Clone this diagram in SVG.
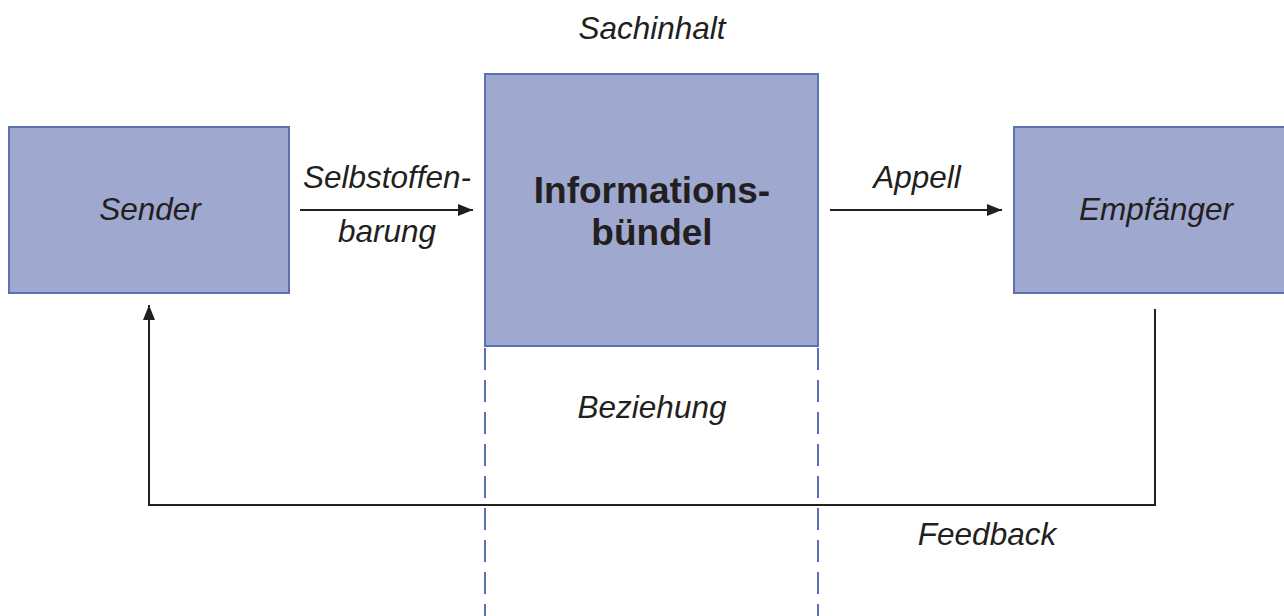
<svg xmlns="http://www.w3.org/2000/svg" width="1284" height="616" viewBox="0 0 1284 616">
  <style>
    .box { fill: #9fa8cf; stroke: #5a72b4; stroke-width: 2; }
    .lbl { font-family: "Liberation Sans", Arial, sans-serif; font-size: 31.5px; font-style: italic; fill: #231f20; text-anchor: middle; }
    .bold { font-family: "Liberation Sans", Arial, sans-serif; font-size: 37px; font-weight: bold; fill: #231f20; text-anchor: middle; }
    .conn { fill: none; stroke: #231f20; stroke-width: 2; }
    .dash { fill: none; stroke: #5a72b4; stroke-width: 2; stroke-dasharray: 22 10; }
  </style>
  <defs>
    <marker id="arrow" viewBox="0 0 15 12" refX="15" refY="6" markerWidth="15" markerHeight="12" markerUnits="userSpaceOnUse" orient="auto">
      <path d="M0,0 L15,6 L0,12 Z" fill="#231f20"/>
    </marker>
  </defs>
  <rect width="1284" height="616" fill="#ffffff"/>

  <g id="sender">
    <rect class="box" x="9" y="127" width="280" height="166"/>
    <text class="lbl" x="150" y="220">Sender</text>
  </g>

  <g id="informationsbuendel">
    <rect class="box" x="485" y="74" width="333" height="272"/>
    <text class="bold" x="652" y="203">Informations-</text>
    <text class="bold" x="652" y="245">bündel</text>
  </g>

  <g id="empfaenger">
    <rect class="box" x="1014" y="127" width="280" height="166"/>
    <text class="lbl" x="1156" y="220">Empfänger</text>
  </g>

  <g id="aspects">
    <text class="lbl" x="652" y="39">Sachinhalt</text>
    <text class="lbl" x="652" y="418">Beziehung</text>
    <line class="dash" x1="485" y1="348" x2="485" y2="616"/>
    <line class="dash" x1="818" y1="348" x2="818" y2="616"/>
  </g>

  <g id="connectors">
    <line class="conn" x1="300" y1="210" x2="473" y2="210" marker-end="url(#arrow)"/>
    <text class="lbl" x="387" y="188">Selbstoffen-</text>
    <text class="lbl" x="387" y="242">barung</text>

    <line class="conn" x1="830" y1="210" x2="1002" y2="210" marker-end="url(#arrow)"/>
    <text class="lbl" x="917" y="188">Appell</text>

    <polyline class="conn" points="1155,309 1155,505 149,505 149,305" marker-end="url(#arrow)"/>
    <text class="lbl" x="987" y="545">Feedback</text>
  </g>
</svg>
